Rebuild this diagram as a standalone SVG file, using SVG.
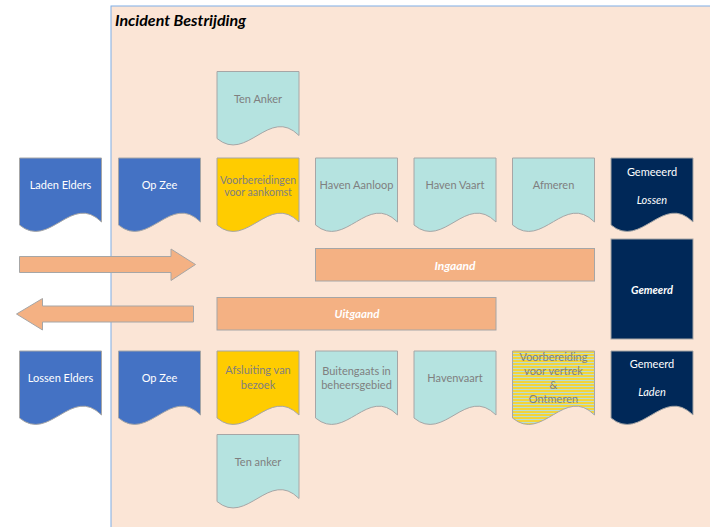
<svg xmlns="http://www.w3.org/2000/svg" xmlns:xlink="http://www.w3.org/1999/xlink" width="710" height="527" viewBox="0 0 710 527">
<style>
  .doc { stroke: #A6A6A6; stroke-width: 1; }
  .blue { fill: #4472C4; }
  .teal { fill: #B5E3E0; }
  .yellow { fill: #FFCC00; }
  .navy { fill: #002858; }
  .stripe { fill: url(#stripes); }
  .bar { fill: #F4B183; stroke: #A6A6A6; stroke-width: 1; }
  text { font-family: Lato, "Liberation Sans", sans-serif; font-size: 11px; text-anchor: middle; }
  .g { fill: #7F7F7F; }
  .w { fill: #FFFFFF; }
  .it { font-style: italic; }
  .bi { font-style: italic; font-weight: bold; }
</style>
<defs>
  <path id="doc" d="M0,0 H82 V64 C52,34 30,92 0,67 Z"/>
  <pattern id="stripes" x="0" y="0" width="4" height="3" patternUnits="userSpaceOnUse">
    <rect x="0" y="0" width="4" height="3" fill="#F3D43A"/>
    <rect x="0" y="2" width="4" height="1" fill="#B8DDD6"/>
  </pattern>
</defs>

<g id="frame">
  <rect x="111" y="6" width="700" height="600" fill="#FBE5D6" stroke="#7FAEE6" stroke-width="1"/>
  <text x="115" y="25.5" class="bi" style="text-anchor:start;font-size:16px;fill:#000000">Incident Bestrijding</text>
</g>

<g id="connectors">
  <path id="arrow-in" d="M19.5,256.5 H171 V249 L195.5,264.5 L171,280.5 V272.5 H19.5 Z" class="bar"/>
  <path id="arrow-out" d="M193.5,306 H42.5 V298.5 L16.5,314 L42.5,330 V322 H193.5 Z" class="bar"/>
</g>

<g id="ingaand">
  <rect x="315.5" y="248.5" width="279" height="32.5" class="bar"/>
  <text x="455" y="269.5" class="w bi" style="font-size:12px">Ingaand</text>
</g>
<g id="uitgaand">
  <rect x="217" y="297.5" width="279" height="32.5" class="bar"/>
  <text x="357" y="318" class="w bi" style="font-size:11.5px">Uitgaand</text>
</g>

<g id="ten-anker-top">
  <use xlink:href="#doc" transform="translate(217,71.5)" class="doc teal"/>
  <text x="258" y="103" class="g">Ten Anker</text>
</g>

<g id="laden-elders">
  <use xlink:href="#doc" transform="translate(19.5,158)" class="doc blue"/>
  <text x="60.5" y="189" class="w">Laden Elders</text>
</g>
<g id="op-zee-top">
  <use xlink:href="#doc" transform="translate(118.5,158)" class="doc blue"/>
  <text x="159.5" y="189" class="w">Op Zee</text>
</g>
<g id="voorbereidingen">
  <use xlink:href="#doc" transform="translate(217,158)" class="doc yellow"/>
  <text x="258" y="184" class="g" style="font-size:10.5px">Voorbereidingen</text>
  <text x="258" y="196" class="g" style="font-size:10.5px">voor aankomst</text>
</g>
<g id="haven-aanloop">
  <use xlink:href="#doc" transform="translate(315.5,158)" class="doc teal"/>
  <text x="356.5" y="189" class="g">Haven Aanloop</text>
</g>
<g id="haven-vaart">
  <use xlink:href="#doc" transform="translate(414,158)" class="doc teal"/>
  <text x="455" y="189" class="g">Haven Vaart</text>
</g>
<g id="afmeren">
  <use xlink:href="#doc" transform="translate(512.5,158)" class="doc teal"/>
  <text x="553.5" y="189" class="g">Afmeren</text>
</g>
<g id="gemeeerd-lossen">
  <use xlink:href="#doc" transform="translate(611,158)" class="doc navy"/>
  <text x="652" y="176" class="w">Gemeeerd</text>
  <text x="652" y="204" class="w it">Lossen</text>
</g>

<g id="gemeerd">
  <rect x="611" y="239" width="82" height="100" class="doc navy"/>
  <text x="652" y="294" class="w bi">Gemeerd</text>
</g>

<g id="lossen-elders">
  <use xlink:href="#doc" transform="translate(19.5,351)" class="doc blue"/>
  <text x="60.5" y="382" class="w">Lossen Elders</text>
</g>
<g id="op-zee-bottom">
  <use xlink:href="#doc" transform="translate(118.5,351)" class="doc blue"/>
  <text x="159.5" y="382" class="w">Op Zee</text>
</g>
<g id="afsluiting">
  <use xlink:href="#doc" transform="translate(217,351)" class="doc yellow"/>
  <text x="258" y="374" class="g">Afsluiting van</text>
  <text x="258" y="389" class="g">bezoek</text>
</g>
<g id="buitengaats">
  <use xlink:href="#doc" transform="translate(315.5,351)" class="doc teal"/>
  <text x="356.5" y="375" class="g">Buitengaats in</text>
  <text x="356.5" y="389" class="g">beheersgebied</text>
</g>
<g id="havenvaart">
  <use xlink:href="#doc" transform="translate(414,351)" class="doc teal"/>
  <text x="455" y="382" class="g">Havenvaart</text>
</g>
<g id="voorbereiding-vertrek">
  <use xlink:href="#doc" transform="translate(512.5,351)" class="doc stripe"/>
  <text x="553.5" y="361" class="g">Voorbereiding</text>
  <text x="553.5" y="374.5" class="g">voor vertrek</text>
  <text x="553.5" y="389" class="g">&amp;</text>
  <text x="553.5" y="403" class="g">Ontmeren</text>
</g>
<g id="gemeerd-laden">
  <use xlink:href="#doc" transform="translate(611,351)" class="doc navy"/>
  <text x="652" y="368" class="w">Gemeerd</text>
  <text x="652" y="396" class="w it">Laden</text>
</g>

<g id="ten-anker-bottom">
  <use xlink:href="#doc" transform="translate(217,434.5)" class="doc teal"/>
  <text x="258" y="466" class="g">Ten anker</text>
</g>
</svg>
